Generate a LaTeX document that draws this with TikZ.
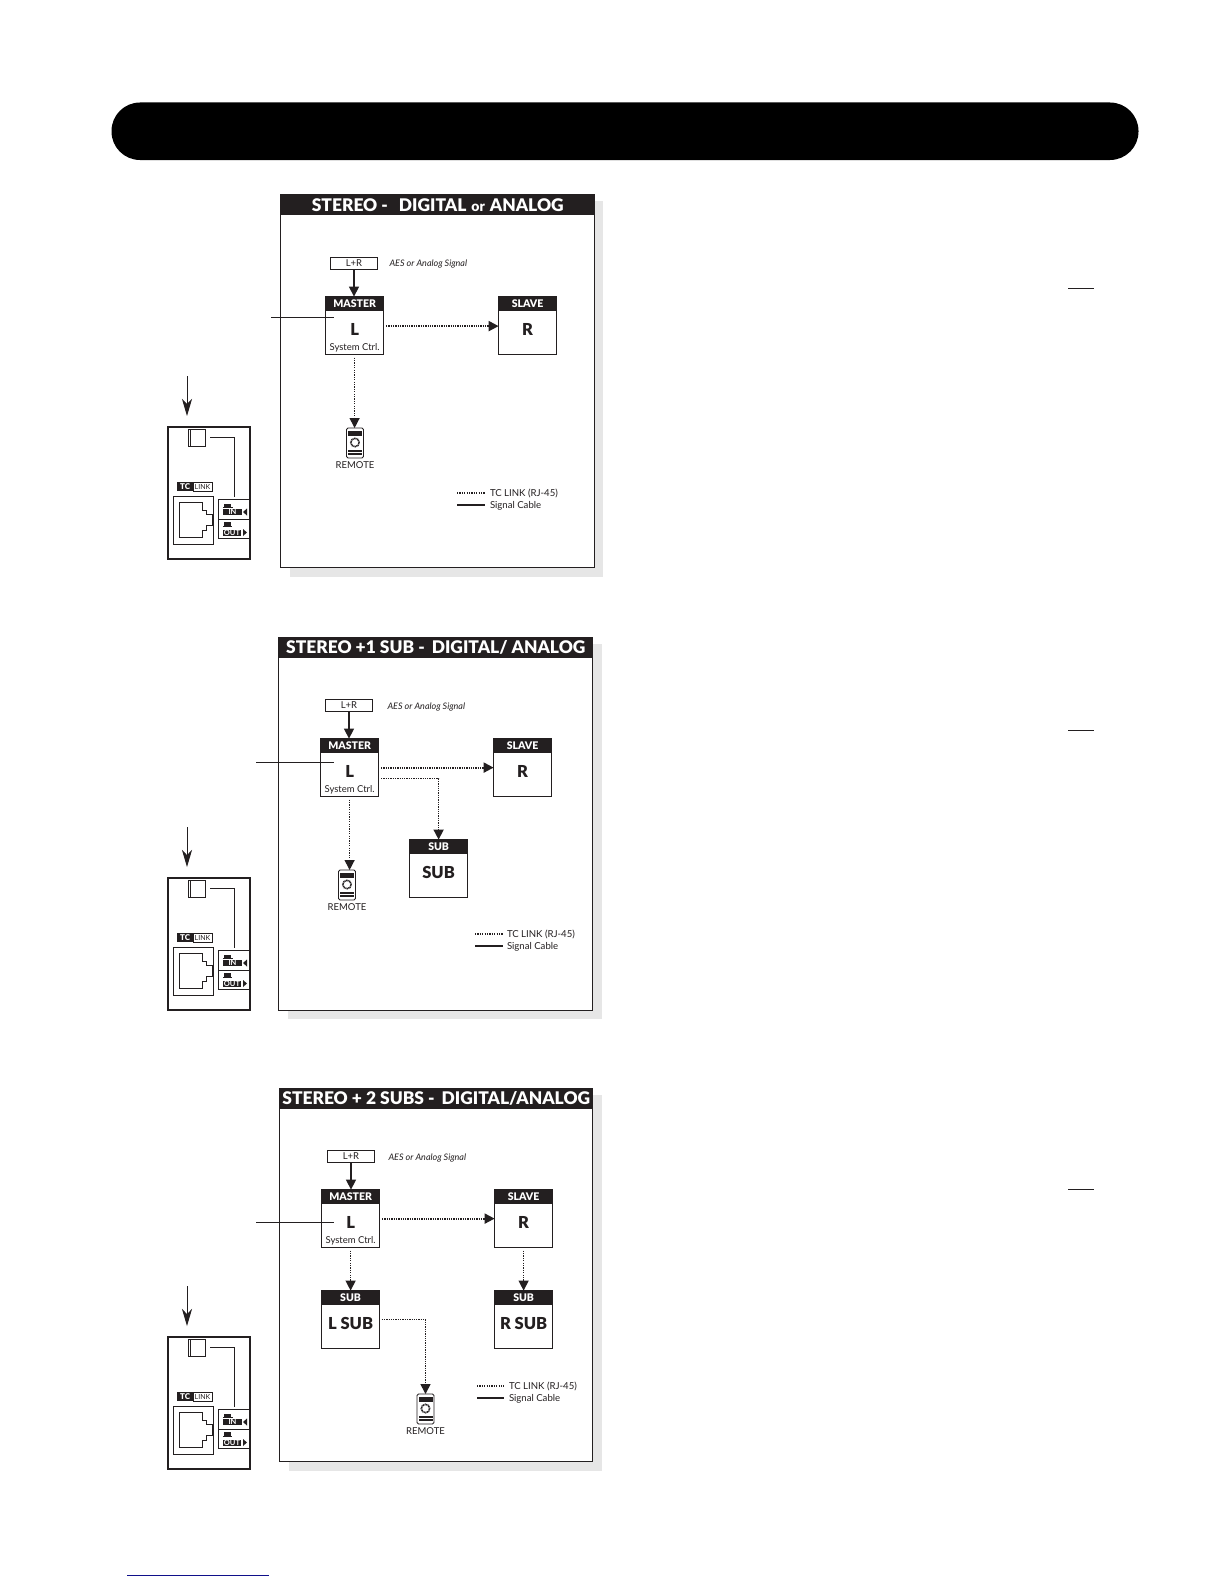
\documentclass[tikz,border=0pt]{standalone}
\usepackage{fontspec}
\setmainfont{Lato}
\newfontfamily\heavyfont{Lato Black}
\usetikzlibrary{arrows.meta,calc}
\definecolor{ink}{HTML}{231F20}
\definecolor{paneltint}{HTML}{E6E6E6}
\definecolor{navy}{HTML}{10108A}
\newcommand{\fs}[1]{\fontsize{#1}{#1}\selectfont}
\tikzset{
  every node/.style={inner sep=0pt,outer sep=0pt},
  panelbox/.style={draw=ink,line width=1.4pt,fill=white,anchor=north west,minimum width=#1},
  titleband/.style={fill=ink,text=white,font=\fs{17.4}\heavyfont,anchor=north west,minimum height=20.5pt,minimum width=#1},
  unitbox/.style={draw=ink,line width=1.5pt,fill=white,anchor=north west,minimum width=58pt,minimum height=58pt,xshift=.6pt,yshift=-.6pt},
  unithead/.style={fill=ink,text=white,font=\fs{10.5}\heavyfont,anchor=north,minimum width=58.6pt,minimum height=14pt},
  unitlabel/.style={font=\fs{16.5}\heavyfont,text=ink},
  smalltext/.style={font=\fs{9.5},text=ink},
  aestext/.style={font=\fs{9}\itshape,text=ink,anchor=west},
  legendtext/.style={font=\fs{9.6},text=ink,anchor=west},
  inputbox/.style={draw=ink,line width=1.1pt,anchor=north west,minimum width=47pt,minimum height=12pt,font=\fs{9.5},text=ink,xshift=.5pt,yshift=-.5pt},
  sigarrow/.style={draw=ink,line width=1.4pt,-{Triangle[length=10pt,width=10pt]}},
  linkthick/.style={draw=ink,line width=2pt,dash pattern=on 1.3pt off 1pt,-{Triangle[length=10pt,width=10pt]}},
  linkthin/.style={draw=ink,line width=1.3pt,dash pattern=on 1.2pt off 1.2pt,-{Triangle[length=10pt,width=10pt]}},
  leader/.style={draw=ink,line width=1pt},
  downarrow/.style={draw=ink,line width=1pt,-{Stealth[length=17pt,width=10pt,inset=5pt]},shorten >=11pt},
  sidewire/.style={draw=ink,line width=1pt},
  thinbox/.style={draw=ink,line width=.9pt,anchor=north west},
  dark/.style={fill=ink,text=white,font=\fs{7.5}\bfseries,anchor=west},
}
% name, x, y, header, label
\newcommand{\unitnode}[5]{%
  \node[unitbox] (#1) at (#2,#3) {};
  \node[unithead] (#1-h) at (#1.north) {#4};
  \node[unitlabel] (#1-l) at ([yshift=-3.5pt]#1.center) {#5};
}
% name, centre x, top y of icon
\newcommand{\remoteicon}[3]{%
  \node[draw=ink,line width=.8pt,fill=white,rounded corners=1.5pt,minimum width=17pt,minimum height=30pt,anchor=north] (#1) at (#2,#3) {};
  \fill[ink] ([xshift=-7pt,yshift=-3pt]#1.north) rectangle ([xshift=7pt,yshift=-8pt]#1.north);
  \draw[ink,line width=1.6pt,dash pattern=on 1pt off .6pt] ([yshift=-14.5pt]#1.north) circle (4.2pt);
  \fill[ink] ([xshift=-7pt,yshift=-22pt]#1.north) rectangle ([xshift=7pt,yshift=-23.5pt]#1.north);
  \fill[ink] ([xshift=-7pt,yshift=-25pt]#1.north) rectangle ([xshift=7pt,yshift=-27pt]#1.north);
  \node[smalltext] (#1-t) at ([yshift=-7.5pt]#1.south) {REMOTE};
}
% suffix, y offset
\newcommand{\sideunit}[2]{%
  \begin{scope}[shift={(0,#2)}]
    \coordinate (top#1) at (187,376);
    \node[draw=ink,line width=2pt,anchor=north west,minimum width=82pt,minimum height=132pt] (frame#1) at (168,427) {};
    \draw[downarrow] (top#1) -- (top#1 |- frame#1.north);
    \node[thinbox,minimum width=17pt,minimum height=17pt,line width=1.3pt] (sq#1) at (188.5,429.5) {};
    \draw[ink,line width=.7pt] (190.5,429.5) -- (190.5,446.5);
    \node[thinbox,minimum width=32pt,minimum height=39pt] (io#1) at (218,499) {};
    \draw[ink,line width=.9pt] (218,519) -- (250,519);
    \coordinate (wirestart#1) at (210,437);
    \draw[sidewire] (wirestart#1) -| ([xshift=-15.5pt,yshift=2pt]io#1.north east);
    \node[fill=ink,text=white,font=\fs{8}\heavyfont,anchor=north west,minimum width=16pt,minimum height=9pt] (tc#1) at (177,482) {TC};
    \node[draw=ink,line width=.5pt,text=ink,font=\fs{7},anchor=west,minimum width=19pt,minimum height=8.5pt] (lk#1) at (tc#1.east) {LINK};
    \node[thinbox,minimum width=40pt,minimum height=48pt] (rj#1) at (173,496) {};
    \draw[ink,line width=.8pt] (179.3,502.3) -- (202.3,502.3) -- (202.3,510) -- (206.7,510) -- (206.7,514.3) -- (212.7,514.3)
      -- (212.7,525) -- (206.7,525) -- (206.7,530) -- (202.3,530) -- (202.3,537.7) -- (179.3,537.7) -- cycle;
    \fill[ink] (224,504) rectangle (231,506.5);
    \fill[ink] (222.5,506.5) rectangle (232.5,507.5);
    \node[dark,minimum width=19pt,minimum height=6pt] (in#1) at (223,512) {IN};
    \fill[ink] (247,508.5) -- (247,515.5) -- (243,512) -- cycle;
    \fill[ink] (224,521.5) rectangle (231,526);
    \fill[ink] (223,526) rectangle (232,527);
    \node[dark,minimum width=18pt,minimum height=6pt] (out#1) at (223,532.5) {OUT};
    \fill[ink] (243,529) -- (243,536) -- (247,532.5) -- cycle;
  \end{scope}
}
\begin{document}
\begin{tikzpicture}[x=1pt,y=-1pt]
\useasboundingbox (0,0) rectangle (1224,1584);
\fill[white] (0,0) rectangle (1224,1584);
% banner
\node[fill=black,rounded corners=28.5pt,anchor=north west,minimum width=1027pt,minimum height=57.5pt] (banner) at (111.5,102.5) {};

% ---------- panel 1
\fill[paneltint] (290,201) rectangle (603,577);
\node[panelbox=314pt,minimum height=373pt] (p1) at (280.5,194.5) {};
\node[titleband=314.6pt] (t1) at (p1.north west) {STEREO -\hspace{7pt} DIGITAL\hspace{1pt} {\fs{14}or}\hspace{1pt} ANALOG};
\node[inputbox] (lr1) at (330,257) {L+R};
\node[aestext] (aes1) at (389.5,264.5) {AES or Analog Signal};
\unitnode{m1}{325}{296}{MASTER}{L}
\node[smalltext] (sys1) at ([yshift=7pt]m1.south) {System Ctrl.};
\unitnode{s1}{498}{296}{SLAVE}{R}
\remoteicon{r1}{355}{428}
\draw[sigarrow] (lr1.south) -- (lr1.south |- m1.north);
\draw[linkthick] ([xshift=2.5pt,yshift=-.5pt]m1.east) -- ([yshift=-.5pt]m1.east -| s1.west);
\draw[linkthin] ([yshift=-3pt]m1.south) -- (m1.south |- r1.north);
\coordinate (lead1) at (271,317);
\draw[leader] (lead1) -- ([xshift=8pt]lead1 -| m1.west);
\coordinate (lg1a) at (457,493); \coordinate (lg1b) at (485,493);
\coordinate (lg1c) at (457,505); \coordinate (lg1d) at (485,505);
\draw[draw=ink,line width=1.5pt,dash pattern=on 1.2pt off 1.2pt] (lg1a) -- (lg1b);
\draw[draw=ink,line width=1.6pt] (lg1c) -- (lg1d);
\node[legendtext] (lt1a) at (490,493.5) {TC LINK (RJ-45)};
\node[legendtext] (lt1b) at (490,505.5) {Signal Cable};
\sideunit{1}{0}

% ---------- panel 2
\fill[paneltint] (288,644) rectangle (602,1019);
\node[panelbox=314pt,minimum height=373pt] (p2) at (278.5,637.5) {};
\node[titleband=314.6pt] (t2) at (p2.north west) {STEREO +1 SUB -\hspace{3pt} DIGITAL/ ANALOG};
\node[inputbox] (lr2) at (325,699) {L+R};
\node[aestext] (aes2) at (387.5,706.5) {AES or Analog Signal};
\unitnode{m2}{320}{738}{MASTER}{L}
\node[smalltext] (sys2) at ([yshift=7pt]m2.south) {System Ctrl.};
\unitnode{s2}{493}{738}{SLAVE}{R}
\unitnode{b2}{409}{839}{SUB}{SUB}
\remoteicon{r2}{347}{870}
\draw[sigarrow] (lr2.south) -- (lr2.south |- m2.north);
\draw[linkthick] ([xshift=2.5pt]m2.east) -- (m2.east -| s2.west);
\draw[linkthick,line width=1.6pt] ([xshift=2.5pt,yshift=-11pt]m2.east) -| (b2.north);
\draw[linkthin] ([yshift=-3pt]m2.south) -- (m2.south |- r2.north);
\coordinate (lead2) at (256,762);
\draw[leader] (lead2) -- ([xshift=13pt]lead2 -| m2.west);
\coordinate (lg2a) at (475,934); \coordinate (lg2b) at (503,934);
\coordinate (lg2c) at (475,946); \coordinate (lg2d) at (503,946);
\draw[draw=ink,line width=1.3pt,dash pattern=on 1.2pt off 1.2pt] (lg2a) -- (lg2b);
\draw[draw=ink,line width=1.6pt] (lg2c) -- (lg2d);
\node[legendtext] (lt2a) at (507,934.5) {TC LINK (RJ-45)};
\node[legendtext] (lt2b) at (507,946.5) {Signal Cable};
\sideunit{2}{451}

% ---------- panel 3
\fill[paneltint] (289,1095) rectangle (602,1471);
\node[panelbox=313pt,minimum height=373pt] (p3) at (279.5,1088.5) {};
\node[titleband=313.6pt] (t3) at (p3.north west) {STEREO + 2 SUBS -\hspace{3pt} DIGITAL/ANALOG};
\node[inputbox] (lr3) at (327,1150) {L+R};
\node[aestext] (aes3) at (388.5,1157.5) {AES or Analog Signal};
\unitnode{m3}{321}{1189}{MASTER}{L}
\node[smalltext] (sys3) at ([yshift=7pt]m3.south) {System Ctrl.};
\unitnode{s3}{494}{1189}{SLAVE}{R}
\unitnode{ls3}{321}{1290}{SUB}{L SUB}
\unitnode{rs3}{494}{1290}{SUB}{R SUB}
\remoteicon{r3}{425.5}{1394}
\draw[sigarrow] (lr3.south) -- (lr3.south |- m3.north);
\draw[linkthick] ([xshift=2.5pt]m3.east) -- (m3.east -| s3.west);
\draw[linkthin] ([yshift=-3pt]m3.south) -- (ls3.north);
\draw[linkthin] ([yshift=-3pt]s3.south) -- (rs3.north);
\draw[linkthick,line width=1.6pt] ([xshift=2pt]ls3.east) -| (r3.north);
\coordinate (lead3) at (256,1222);
\draw[leader] (lead3) -- ([xshift=12pt]lead3 -| m3.west);
\coordinate (lg3a) at (477,1386); \coordinate (lg3b) at (504,1386);
\coordinate (lg3c) at (477,1398); \coordinate (lg3d) at (504,1398);
\draw[draw=ink,line width=1.3pt,dash pattern=on 1.2pt off 1.2pt] (lg3a) -- (lg3b);
\draw[draw=ink,line width=1.6pt] (lg3c) -- (lg3d);
\node[legendtext] (lt3a) at (509,1386.5) {TC LINK (RJ-45)};
\node[legendtext] (lt3b) at (509,1398.5) {Signal Cable};
\sideunit{3}{910}

% right-hand rules and footer rule
\draw[ink,line width=1pt] (1068,288) -- (1094,288);
\draw[ink,line width=1pt] (1068,730) -- (1094,730);
\draw[ink,line width=1pt] (1068,1189) -- (1094,1189);
\draw[navy,line width=1pt] (127,1575) -- (269,1575);
\end{tikzpicture}
\end{document}
